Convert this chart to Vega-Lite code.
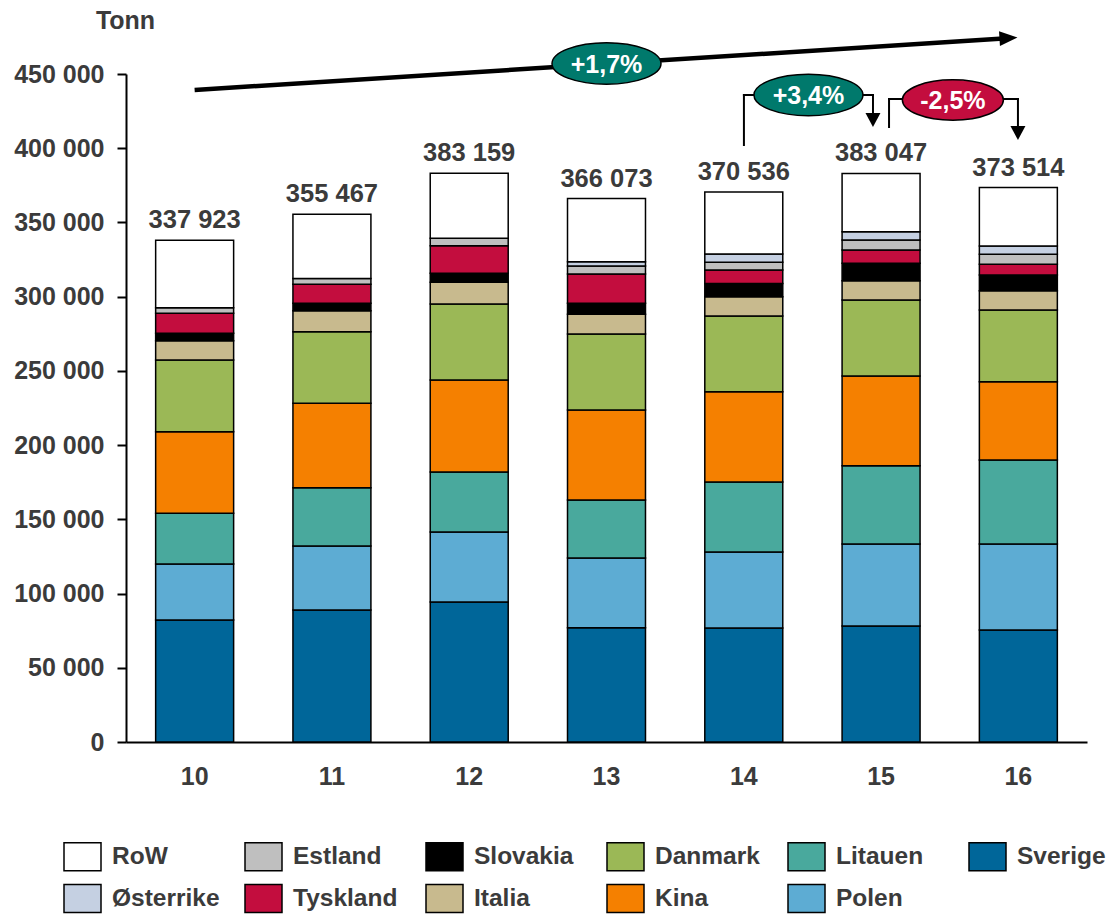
{
  "$schema": "https://vega.github.io/schema/vega-lite/v6.json",
  "width": 961,
  "height": 668,
  "autosize": {"type": "none"},
  "padding": {"left": 126, "top": 74, "right": 22, "bottom": 172},
  "background": "white",
  "config": {
    "view": {"stroke": null},
    "locale": {"number": {"decimal": ",", "thousands": " ", "grouping": [3], "currency": ["", " kr"]}},
    "font": "Liberation Sans"
  },
  "resolve": {"scale": {"x": "independent"}},
  "layer": [
    {
      "data": {"values": [
        {"year": "10", "land": "Sverige", "tonn": 82200},
        {"year": "10", "land": "Polen", "tonn": 37700},
        {"year": "10", "land": "Litauen", "tonn": 34150},
        {"year": "10", "land": "Kina", "tonn": 55000},
        {"year": "10", "land": "Danmark", "tonn": 48300},
        {"year": "10", "land": "Italia", "tonn": 13000},
        {"year": "10", "land": "Slovakia", "tonn": 5000},
        {"year": "10", "land": "Tyskland", "tonn": 13450},
        {"year": "10", "land": "Estland", "tonn": 3800},
        {"year": "10", "land": "RoW", "tonn": 45323},
        {"year": "11", "land": "Sverige", "tonn": 88900},
        {"year": "11", "land": "Polen", "tonn": 43100},
        {"year": "11", "land": "Litauen", "tonn": 39300},
        {"year": "11", "land": "Kina", "tonn": 56900},
        {"year": "11", "land": "Danmark", "tonn": 48200},
        {"year": "11", "land": "Italia", "tonn": 14100},
        {"year": "11", "land": "Slovakia", "tonn": 5000},
        {"year": "11", "land": "Tyskland", "tonn": 12800},
        {"year": "11", "land": "Estland", "tonn": 4000},
        {"year": "11", "land": "RoW", "tonn": 43167},
        {"year": "12", "land": "Sverige", "tonn": 94300},
        {"year": "12", "land": "Polen", "tonn": 47150},
        {"year": "12", "land": "Litauen", "tonn": 40400},
        {"year": "12", "land": "Kina", "tonn": 62000},
        {"year": "12", "land": "Danmark", "tonn": 51200},
        {"year": "12", "land": "Italia", "tonn": 14600},
        {"year": "12", "land": "Slovakia", "tonn": 6100},
        {"year": "12", "land": "Tyskland", "tonn": 18600},
        {"year": "12", "land": "Estland", "tonn": 5000},
        {"year": "12", "land": "RoW", "tonn": 43809},
        {"year": "13", "land": "Sverige", "tonn": 77000},
        {"year": "13", "land": "Polen", "tonn": 46950},
        {"year": "13", "land": "Litauen", "tonn": 39100},
        {"year": "13", "land": "Kina", "tonn": 60600},
        {"year": "13", "land": "Danmark", "tonn": 51200},
        {"year": "13", "land": "Italia", "tonn": 13300},
        {"year": "13", "land": "Slovakia", "tonn": 7400},
        {"year": "13", "land": "Tyskland", "tonn": 19700},
        {"year": "13", "land": "Estland", "tonn": 5400},
        {"year": "13", "land": "Østerrike", "tonn": 2900},
        {"year": "13", "land": "RoW", "tonn": 42523},
        {"year": "14", "land": "Sverige", "tonn": 76800},
        {"year": "14", "land": "Polen", "tonn": 51200},
        {"year": "14", "land": "Litauen", "tonn": 47150},
        {"year": "14", "land": "Kina", "tonn": 60800},
        {"year": "14", "land": "Danmark", "tonn": 51000},
        {"year": "14", "land": "Italia", "tonn": 13000},
        {"year": "14", "land": "Slovakia", "tonn": 9000},
        {"year": "14", "land": "Tyskland", "tonn": 9000},
        {"year": "14", "land": "Estland", "tonn": 5200},
        {"year": "14", "land": "Østerrike", "tonn": 5600},
        {"year": "14", "land": "RoW", "tonn": 41786},
        {"year": "15", "land": "Sverige", "tonn": 78100},
        {"year": "15", "land": "Polen", "tonn": 55250},
        {"year": "15", "land": "Litauen", "tonn": 52750},
        {"year": "15", "land": "Kina", "tonn": 60450},
        {"year": "15", "land": "Danmark", "tonn": 51200},
        {"year": "15", "land": "Italia", "tonn": 13000},
        {"year": "15", "land": "Slovakia", "tonn": 11700},
        {"year": "15", "land": "Tyskland", "tonn": 9000},
        {"year": "15", "land": "Estland", "tonn": 6700},
        {"year": "15", "land": "Østerrike", "tonn": 5600},
        {"year": "15", "land": "RoW", "tonn": 39297},
        {"year": "16", "land": "Sverige", "tonn": 75450},
        {"year": "16", "land": "Polen", "tonn": 57950},
        {"year": "16", "land": "Litauen", "tonn": 56550},
        {"year": "16", "land": "Kina", "tonn": 52750},
        {"year": "16", "land": "Danmark", "tonn": 48300},
        {"year": "16", "land": "Italia", "tonn": 13000},
        {"year": "16", "land": "Slovakia", "tonn": 10600},
        {"year": "16", "land": "Tyskland", "tonn": 7200},
        {"year": "16", "land": "Estland", "tonn": 6700},
        {"year": "16", "land": "Østerrike", "tonn": 5600},
        {"year": "16", "land": "RoW", "tonn": 39414}
      ]},
      "layer": [
        {
          "transform": [
            {"calculate": "indexof(['Sverige','Polen','Litauen','Kina','Danmark','Italia','Slovakia','Tyskland','Estland','Østerrike','RoW'], datum.land)", "as": "stackIdx"}
          ],
          "mark": {"type": "bar", "stroke": "black", "strokeWidth": 1.5},
          "encoding": {
            "x": {
              "field": "year", "type": "ordinal",
              "scale": {"paddingInner": 0.432, "paddingOuter": 0.216},
              "axis": {
                "title": null, "labelAngle": 0, "labelFont": "Liberation Sans", "labelFontWeight": "bold",
                "labelFontSize": 25, "labelColor": "#3b3b3b", "ticks": false, "tickSize": 0,
                "labelPadding": 22, "domainColor": "black", "domainWidth": 2
              }
            },
            "y": {
              "field": "tonn", "type": "quantitative", "stack": "zero",
              "scale": {"domain": [0, 450000], "nice": false},
              "axis": {
                "values": [0, 50000, 100000, 150000, 200000, 250000, 300000, 350000, 400000, 450000],
                "format": ",.0f", "grid": false,
                "labelFont": "Liberation Sans", "labelFontWeight": "bold", "labelFontSize": 25, "labelColor": "#3b3b3b",
                "labelPadding": 13, "tickSize": 9, "tickColor": "black", "tickWidth": 2,
                "domainColor": "black", "domainWidth": 2,
                "title": "Tonn", "titleAngle": 0, "titleFont": "Liberation Sans", "titleFontWeight": "bold",
                "titleFontSize": 25, "titleColor": "#3b3b3b", "titleX": -1, "titleY": -54,
                "titleAlign": "center", "titleBaseline": "middle"
              }
            },
            "color": {
              "field": "land", "type": "nominal",
              "scale": {
                "domain": ["RoW", "Estland", "Slovakia", "Danmark", "Litauen", "Sverige", "Østerrike", "Tyskland", "Italia", "Kina", "Polen"],
                "range": ["#FFFFFF", "#BFBFBF", "#000000", "#9BB856", "#49A99D", "#006699", "#C5D0E2", "#C30D3E", "#C8BA8E", "#F58000", "#5DACD3"]
              },
              "legend": {
                "title": null, "orient": "none", "legendX": -63, "legendY": 763, "direction": "horizontal",
                "columns": 6, "gridAlign": "all", "columnPadding": 22, "rowPadding": 5, "padding": 0,
                "symbolType": "M -1 -0.76 L 1 -0.76 L 1 0.76 L -1 0.76 Z", "symbolSize": 1369,
                "symbolStrokeColor": "black", "symbolStrokeWidth": 1.5, "symbolOpacity": 1,
                "labelFont": "Liberation Sans", "labelFontWeight": "bold", "labelFontSize": 24.5,
                "labelColor": "#3b3b3b", "labelOffset": 10, "labelLimit": 300
              }
            },
            "order": {"field": "stackIdx", "type": "quantitative", "sort": "ascending"}
          }
        }
      ]
    },
    {
      "data": {"values": [
        {"year": "10", "land": "Sverige", "tonn": 82200},
        {"year": "10", "land": "Polen", "tonn": 37700},
        {"year": "10", "land": "Litauen", "tonn": 34150},
        {"year": "10", "land": "Kina", "tonn": 55000},
        {"year": "10", "land": "Danmark", "tonn": 48300},
        {"year": "10", "land": "Italia", "tonn": 13000},
        {"year": "10", "land": "Slovakia", "tonn": 5000},
        {"year": "10", "land": "Tyskland", "tonn": 13450},
        {"year": "10", "land": "Estland", "tonn": 3800},
        {"year": "10", "land": "RoW", "tonn": 45323},
        {"year": "11", "land": "Sverige", "tonn": 88900},
        {"year": "11", "land": "Polen", "tonn": 43100},
        {"year": "11", "land": "Litauen", "tonn": 39300},
        {"year": "11", "land": "Kina", "tonn": 56900},
        {"year": "11", "land": "Danmark", "tonn": 48200},
        {"year": "11", "land": "Italia", "tonn": 14100},
        {"year": "11", "land": "Slovakia", "tonn": 5000},
        {"year": "11", "land": "Tyskland", "tonn": 12800},
        {"year": "11", "land": "Estland", "tonn": 4000},
        {"year": "11", "land": "RoW", "tonn": 43167},
        {"year": "12", "land": "Sverige", "tonn": 94300},
        {"year": "12", "land": "Polen", "tonn": 47150},
        {"year": "12", "land": "Litauen", "tonn": 40400},
        {"year": "12", "land": "Kina", "tonn": 62000},
        {"year": "12", "land": "Danmark", "tonn": 51200},
        {"year": "12", "land": "Italia", "tonn": 14600},
        {"year": "12", "land": "Slovakia", "tonn": 6100},
        {"year": "12", "land": "Tyskland", "tonn": 18600},
        {"year": "12", "land": "Estland", "tonn": 5000},
        {"year": "12", "land": "RoW", "tonn": 43809},
        {"year": "13", "land": "Sverige", "tonn": 77000},
        {"year": "13", "land": "Polen", "tonn": 46950},
        {"year": "13", "land": "Litauen", "tonn": 39100},
        {"year": "13", "land": "Kina", "tonn": 60600},
        {"year": "13", "land": "Danmark", "tonn": 51200},
        {"year": "13", "land": "Italia", "tonn": 13300},
        {"year": "13", "land": "Slovakia", "tonn": 7400},
        {"year": "13", "land": "Tyskland", "tonn": 19700},
        {"year": "13", "land": "Estland", "tonn": 5400},
        {"year": "13", "land": "Østerrike", "tonn": 2900},
        {"year": "13", "land": "RoW", "tonn": 42523},
        {"year": "14", "land": "Sverige", "tonn": 76800},
        {"year": "14", "land": "Polen", "tonn": 51200},
        {"year": "14", "land": "Litauen", "tonn": 47150},
        {"year": "14", "land": "Kina", "tonn": 60800},
        {"year": "14", "land": "Danmark", "tonn": 51000},
        {"year": "14", "land": "Italia", "tonn": 13000},
        {"year": "14", "land": "Slovakia", "tonn": 9000},
        {"year": "14", "land": "Tyskland", "tonn": 9000},
        {"year": "14", "land": "Estland", "tonn": 5200},
        {"year": "14", "land": "Østerrike", "tonn": 5600},
        {"year": "14", "land": "RoW", "tonn": 41786},
        {"year": "15", "land": "Sverige", "tonn": 78100},
        {"year": "15", "land": "Polen", "tonn": 55250},
        {"year": "15", "land": "Litauen", "tonn": 52750},
        {"year": "15", "land": "Kina", "tonn": 60450},
        {"year": "15", "land": "Danmark", "tonn": 51200},
        {"year": "15", "land": "Italia", "tonn": 13000},
        {"year": "15", "land": "Slovakia", "tonn": 11700},
        {"year": "15", "land": "Tyskland", "tonn": 9000},
        {"year": "15", "land": "Estland", "tonn": 6700},
        {"year": "15", "land": "Østerrike", "tonn": 5600},
        {"year": "15", "land": "RoW", "tonn": 39297},
        {"year": "16", "land": "Sverige", "tonn": 75450},
        {"year": "16", "land": "Polen", "tonn": 57950},
        {"year": "16", "land": "Litauen", "tonn": 56550},
        {"year": "16", "land": "Kina", "tonn": 52750},
        {"year": "16", "land": "Danmark", "tonn": 48300},
        {"year": "16", "land": "Italia", "tonn": 13000},
        {"year": "16", "land": "Slovakia", "tonn": 10600},
        {"year": "16", "land": "Tyskland", "tonn": 7200},
        {"year": "16", "land": "Estland", "tonn": 6700},
        {"year": "16", "land": "Østerrike", "tonn": 5600},
        {"year": "16", "land": "RoW", "tonn": 39414}
      ]},
      "mark": {"type": "text", "baseline": "alphabetic", "align": "center", "dy": -12, "font": "Liberation Sans", "fontWeight": "bold", "fontSize": 25.5, "color": "#3b3b3b"},
      "encoding": {
        "x": {"field": "year", "type": "ordinal", "scale": {"paddingInner": 0.432, "paddingOuter": 0.216}, "axis": null},
        "y": {"aggregate": "sum", "field": "tonn", "type": "quantitative", "scale": {"domain": [0, 450000], "nice": false}},
        "text": {"aggregate": "sum", "field": "tonn", "type": "quantitative", "format": ",.0f"}
      }
    },
    {
      "data": {"values": [
        {"x": 0.5, "y": 439220, "x2": 6.39, "y2": 473900}
      ]},
      "mark": {"type": "rule", "color": "black", "strokeWidth": 4.5, "strokeCap": "butt"},
      "encoding": {
        "x": {"field": "x", "type": "quantitative", "scale": {"domain": [0, 7], "nice": false, "zero": false}, "axis": null},
        "x2": {"field": "x2"},
        "y": {"field": "y", "type": "quantitative", "scale": {"domain": [0, 450000], "nice": false}},
        "y2": {"field": "y2"}
      }
    },
    {
      "data": {"values": [
        {"x": 4.501, "y": 402169, "x2": 4.501, "y2": 435852},
        {"x": 4.501, "y": 435852, "x2": 5.441, "y2": 435852},
        {"x": 5.441, "y": 435852, "x2": 5.441, "y2": 423726},
        {"x": 5.558, "y": 414295, "x2": 5.558, "y2": 433157},
        {"x": 5.558, "y": 433157, "x2": 6.497, "y2": 433157},
        {"x": 6.497, "y": 433157, "x2": 6.497, "y2": 414968}
      ]},
      "mark": {"type": "rule", "color": "black", "strokeWidth": 2, "strokeCap": "square"},
      "encoding": {
        "x": {"field": "x", "type": "quantitative", "scale": {"domain": [0, 7], "nice": false, "zero": false}, "axis": null},
        "x2": {"field": "x2"},
        "y": {"field": "y", "type": "quantitative", "scale": {"domain": [0, 450000], "nice": false}},
        "y2": {"field": "y2"}
      }
    },
    {
      "data": {"values": [
        {"x": 6.428, "y": 474250}
      ]},
      "mark": {"type": "point", "shape": "M 1 0 L -1 -0.82 L -1 0.82 Z", "size": 324, "angle": -3.7, "filled": true, "color": "black", "opacity": 1, "strokeWidth": 0},
      "encoding": {
        "x": {"field": "x", "type": "quantitative", "scale": {"domain": [0, 7], "nice": false, "zero": false}, "axis": null},
        "y": {"field": "y", "type": "quantitative", "scale": {"domain": [0, 450000], "nice": false}}
      }
    },
    {
      "data": {"values": [
        {"x": 5.441, "y": 419010},
        {"x": 6.497, "y": 410253}
      ]},
      "mark": {"type": "point", "shape": "M 1 0 L -1 -1.07 L -1 1.07 Z", "size": 196, "angle": 90, "filled": true, "color": "black", "opacity": 1, "strokeWidth": 0},
      "encoding": {
        "x": {"field": "x", "type": "quantitative", "scale": {"domain": [0, 7], "nice": false, "zero": false}, "axis": null},
        "y": {"field": "y", "type": "quantitative", "scale": {"domain": [0, 450000], "nice": false}}
      }
    },
    {
      "data": {"values": [
        {"x": 3.5, "y": 457072, "label": "+1,7%"},
        {"x": 4.971, "y": 435852, "label": "+3,4%"}
      ]},
      "layer": [
        {
          "mark": {"type": "point", "shape": "M -1 0 C -1 -0.2098 -0.5523 -0.38 0 -0.38 C 0.5523 -0.38 1 -0.2098 1 0 C 1 0.2098 0.5523 0.38 0 0.38 C -0.5523 0.38 -1 0.2098 -1 0 Z", "size": 11881, "filled": true, "fill": "#00796C", "stroke": "black", "strokeWidth": 1.5, "opacity": 1}
        },
        {
          "mark": {"type": "text", "align": "center", "baseline": "middle", "dy": 1, "font": "Liberation Sans", "fontWeight": "bold", "fontSize": 25, "color": "white"},
          "encoding": {"text": {"field": "label"}}
        }
      ],
      "encoding": {
        "x": {"field": "x", "type": "quantitative", "scale": {"domain": [0, 7], "nice": false, "zero": false}, "axis": null},
        "y": {"field": "y", "type": "quantitative", "scale": {"domain": [0, 450000], "nice": false}}
      }
    },
    {
      "data": {"values": [
        {"x": 6.023, "y": 432483, "label": "-2,5%"}
      ]},
      "layer": [
        {
          "mark": {"type": "point", "shape": "M -1 0 C -1 -0.2209 -0.5523 -0.4 0 -0.4 C 0.5523 -0.4 1 -0.2209 1 0 C 1 0.2209 0.5523 0.4 0 0.4 C -0.5523 0.4 -1 0.2209 -1 0 Z", "size": 10201, "filled": true, "fill": "#C30D3E", "stroke": "black", "strokeWidth": 1.5, "opacity": 1}
        },
        {
          "mark": {"type": "text", "align": "center", "baseline": "middle", "dy": 1, "font": "Liberation Sans", "fontWeight": "bold", "fontSize": 25, "color": "white"},
          "encoding": {"text": {"field": "label"}}
        }
      ],
      "encoding": {
        "x": {"field": "x", "type": "quantitative", "scale": {"domain": [0, 7], "nice": false, "zero": false}, "axis": null},
        "y": {"field": "y", "type": "quantitative", "scale": {"domain": [0, 450000], "nice": false}}
      }
    }
  ]
}
